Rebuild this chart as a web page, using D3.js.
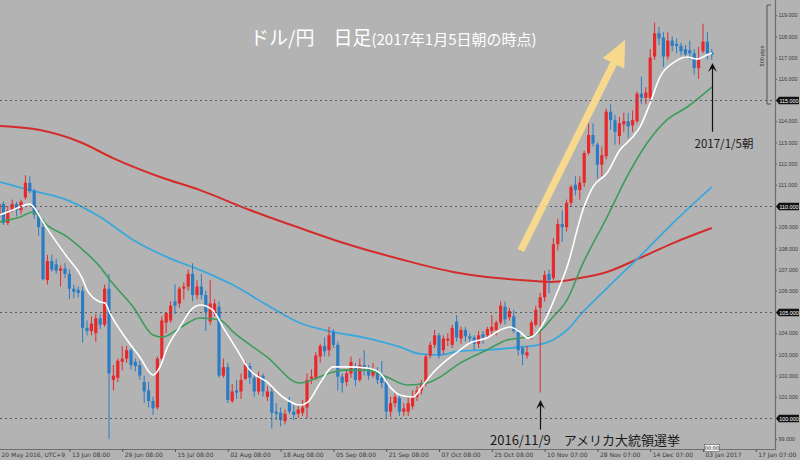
<!DOCTYPE html>
<html><head><meta charset="utf-8">
<script src="https://cdn.jsdelivr.net/npm/d3@7"></script>
<style>body{margin:0;background:#b3b3b3;overflow:hidden}svg{display:block}</style>
</head><body>
<svg id="c" width="800" height="460"></svg>
<script>
// ---- DATA ----
// daily candles [open, high, low, close], bar 0 = 20 May 2016
const candles = [
[109.5,110.3,109.4,110.1],[110.1,110.2,109.1,109.2],[109.2,110.0,109.1,109.8],[109.8,110.3,109.7,110.1],[110.1,110.2,109.5,109.8],
[109.8,110.3,109.6,110.2],[110.4,111.45,110.3,111.1],[111.1,111.4,110.6,110.7],[110.7,110.8,109.4,109.6],[109.6,109.8,108.6,109.0],
[109.0,109.4,106.5,106.55],[106.5,107.7,106.3,107.4],[107.4,107.7,106.9,107.0],[107.25,107.5,106.8,106.95],[106.95,107.2,106.2,107.05],
[107.05,107.3,106.6,106.8],[106.8,107.0,105.6,106.1],[106.1,106.3,105.65,105.95],[106.05,106.2,105.7,105.9],[106.0,106.2,103.55,104.25],
[104.25,104.6,103.9,104.1],[104.1,104.8,103.9,104.45],[104.0,104.9,103.6,104.7],[104.7,104.9,104.2,104.4],[104.4,106.3,104.3,106.1],
[106.1,106.8,99.0,102.1],[101.8,102.5,101.3,102.0],[101.9,102.8,101.7,102.7],[102.65,103.4,102.25,102.8],[102.8,103.4,102.6,103.2],
[103.2,103.3,102.3,102.5],[102.65,102.8,102.2,102.45],[102.5,102.7,101.8,102.0],[101.7,102.0,100.7,101.25],[101.3,101.7,100.5,100.8],
[100.8,101.0,100.15,100.45],[100.5,102.9,100.4,102.8],[102.8,104.8,102.7,104.6],[104.5,105.0,104.0,104.95],[104.6,105.5,104.5,105.3],
[105.5,106.3,104.9,105.3],[105.4,106.2,105.2,106.1],[106.1,106.4,105.6,106.2],[106.2,107.0,106.0,106.8],[106.8,107.3,105.5,105.8],
[105.8,106.5,105.6,106.2],[106.2,106.8,105.6,105.8],[105.8,106.0,104.1,105.0],[104.55,106.5,104.4,105.4],[104.95,105.6,104.8,105.4],
[105.25,105.5,101.9,102.0],[102.0,102.8,101.9,102.4],[102.4,102.6,100.7,100.85],[100.8,101.6,100.7,101.25],[101.3,101.8,100.9,101.2],
[101.25,102.1,100.9,101.8],[101.85,102.7,101.8,102.5],[102.45,102.6,101.6,101.9],[101.9,102.0,101.0,101.25],[101.25,102.2,101.1,102.0],
[102.0,102.1,101.0,101.25],[101.0,101.5,100.8,101.25],[101.25,101.5,99.5,100.25],[100.3,100.7,99.9,100.2],[100.25,100.5,99.6,99.9],
[99.85,100.4,99.7,100.2],[100.75,101.0,100.2,100.3],[100.3,100.6,99.9,100.15],[100.2,100.6,100.0,100.4],[100.25,100.85,100.1,100.5],
[100.5,102.1,100.0,101.8],[101.85,102.3,101.6,101.95],[101.9,103.1,101.8,102.95],[102.9,103.5,102.6,103.4],[103.4,103.8,102.9,103.15],
[103.2,104.3,102.9,103.9],[104.05,104.2,103.3,103.45],[103.45,103.6,101.3,101.95],[101.95,102.1,101.2,101.65],[101.7,102.3,101.5,102.1],
[102.1,102.9,101.9,102.65],[102.45,102.6,101.5,101.8],[101.8,102.8,101.7,102.5],[102.5,103.2,102.0,102.35],[102.35,102.5,101.8,102.0],
[102.0,102.6,101.9,102.3],[102.2,102.4,101.6,101.8],[101.9,102.7,101.4,101.65],[101.7,101.9,100.0,100.3],[100.3,101.0,100.05,100.7],
[100.7,101.2,100.5,101.0],[100.95,101.1,100.1,100.3],[100.3,100.7,100.1,100.45],[100.3,101.0,100.1,100.7],[100.55,101.3,100.4,101.0],
[101.0,101.5,100.8,101.3],[101.3,101.8,101.1,101.65],[101.65,103.0,101.5,102.9],[102.95,103.6,102.8,103.45],[103.45,104.15,103.3,103.9],
[103.9,104.0,102.8,102.95],[103.2,103.9,103.0,103.75],[103.65,104.0,103.4,103.75],[103.45,104.4,103.3,104.25],[104.55,104.85,103.6,103.8],
[103.75,104.3,103.5,104.15],[104.15,104.3,103.6,103.85],[103.85,104.0,103.5,103.75],[103.8,103.9,103.2,103.5],[103.5,104.1,103.3,103.9],
[103.95,104.1,103.5,103.8],[103.9,104.3,103.8,104.2],[104.1,104.85,103.9,104.3],[104.15,104.6,103.9,104.5],[104.5,105.5,104.4,105.3],
[105.25,105.5,104.4,104.65],[104.75,105.2,104.6,105.05],[104.8,105.1,104.0,104.1],[104.05,104.2,102.95,103.2],[103.3,103.4,102.5,103.0],
[102.95,103.4,102.8,103.1],[103.8,104.6,103.7,104.5],[104.4,105.3,104.3,105.1],[105.2,105.9,101.2,105.7],[105.7,106.95,105.5,106.75],
[106.8,107.0,105.9,106.5],[106.6,108.5,106.5,108.2],[108.2,109.4,107.9,109.15],[109.15,109.8,108.3,109.0],[109.0,110.3,108.8,110.15],
[110.15,111.0,110.0,110.9],[111.0,111.4,110.5,110.75],[110.75,111.4,110.3,111.1],[111.1,112.6,110.9,112.5],[112.5,113.9,112.4,113.35],
[113.35,113.9,112.8,112.95],[112.9,113.0,111.3,111.95],[111.95,112.8,111.4,112.4],[112.35,114.6,112.2,114.45],[114.45,114.8,113.6,114.05],
[114.05,114.3,112.9,113.5],[113.3,114.2,112.9,113.9],[113.85,114.4,113.5,114.0],[114.0,114.4,113.2,113.75],[113.8,114.5,113.5,114.05],
[114.0,115.4,113.9,115.3],[115.3,116.1,114.8,115.1],[115.1,115.6,114.8,115.35],[115.1,117.4,114.9,117.0],[117.05,118.65,116.9,118.15],
[118.15,118.45,117.6,117.9],[117.95,118.2,116.55,117.05],[117.05,118.2,116.9,117.8],[117.8,118.0,117.3,117.55],[117.65,117.9,117.2,117.55],
[117.55,117.7,117.1,117.3],[117.4,117.6,117.0,117.15],[117.35,117.8,116.9,117.2],[117.2,117.4,116.2,116.5],[116.5,117.5,116.0,116.9],
[117.3,118.6,117.2,117.75],[117.75,118.2,116.9,117.2],[117.25,117.4,116.9,117.15]
];
// moving averages: [bar, price]
const maWhite = [[0.2,109.58],[3,109.8],[7,110.09],[10,109.25],[11.6,108.73],[15.5,107.59],[18.9,106.6],[20,106.04],[23,105.47],[24.1,105.42],
[25.2,104.95],[29.1,103.68],[32,102.88],[35,102.03],[36.6,102.41],[38.2,103.3],[41.1,104.29],[44.1,105.19],[45.7,105.33],[48.6,105.09],
[50.9,104.29],[54.1,103.21],[57,102.26],[60.9,101.7],[64.5,100.99],[68.4,100.61],[70.2,100.75],[73,101.65],[75.9,102.41],[79.1,102.41],
[83.6,102.36],[86.6,102.12],[88.9,101.46],[91.1,101.08],[94.1,100.99],[96.4,101.56],[98.6,102.12],[101.8,102.74],[104.8,103.21],[107,103.54],
[110.9,103.77],[113.9,104.15],[116.1,104.29],[118.4,104.06],[120.2,103.77],[121.8,103.92],[124.1,104.62],[126.8,105.9],[129.1,107.12],[132.7,109.81],
[135,110.9],[138.2,111.56],[141.1,112.64],[144,113.25],[145.7,113.73],[148,114.86],[150.2,116.08],[153.2,116.75],[156.4,117.03],[158.6,116.93],
[160.9,117.12],[162,117.22]];
const maGreen = [[0.2,109.25],[4.8,109.48],[7.7,109.72],[10.9,109.1],[15.5,108.54],[19.1,107.92],[23,107.12],[25.2,106.51],[30.5,105.24],[35,103.92],
[37.3,103.82],[41.1,104.25],[45.7,104.72],[50.2,104.62],[53.2,104.06],[60.9,102.88],[68.4,101.65],[72.3,101.89],[75.9,102.17],[78.2,102.26],
[83.6,102.26],[88.2,101.93],[92.7,101.56],[97.3,101.65],[100.2,101.93],[104.8,102.59],[110.9,103.21],[115.5,103.68],[118.4,103.77],[121.8,103.92],
[125.9,104.76],[129.1,105.57],[132.5,107.2],[138.2,109.48],[142.7,111.37],[147.3,112.97],[151.8,114.06],[156.4,114.67],[162,115.61]];
const maBlue = [[0.2,111.13],[7,110.75],[15.5,110.28],[23,109.48],[30.5,108.4],[38.2,107.59],[45.7,106.98],[53.2,106.27],[60.9,105.33],[68.4,104.48],
[75.9,104.06],[83.6,103.77],[91.1,103.35],[95.7,103.02],[100.2,102.97],[104.8,103.16],[110.9,103.21],[118.4,103.35],[122.3,103.44],[125.9,103.68],
[129.1,104.15],[132.7,105.0],[138.2,106.13],[145.7,107.64],[153.2,109.2],[162,110.9]];
const maRed = [[0.2,113.77],[9.3,113.58],[18.4,113.02],[25.9,112.26],[36.6,111.37],[45.7,110.75],[57,109.81],[68.4,108.96],[79.8,108.16],[91.1,107.5],
[103.2,106.89],[110.9,106.65],[118.4,106.51],[125.2,106.42],[132,106.6],[138.2,106.89],[145.7,107.55],[153.2,108.25],[162,108.96]];
const priceTicks = [99,101,102,103,104,106,107,108,109,111,112,113,114,116,117,118,119];
const levelLines = [100,105,110,115];
const timeTickIdx = [0,16,28,40,52,64,76,88,100,112,124,136,148,160,172];
const timeTickLabels = ["20 May 2016, UTC+9","13 Jun 08:00","29 Jun 08:00","15 Jul 08:00","02 Aug 08:00","18 Aug 08:00","05 Sep 08:00",
"21 Sep 08:00","07 Oct 08:00","25 Oct 08:00","10 Nov 07:00","28 Nov 07:00","14 Dec 07:00","03 Jan 2017","17 Jan 07:00"];

// ---- CHART ----
const W = 800, H = 460, plotR = 775, plotB = 449;
const svg = d3.select("#c");
const x = d3.scaleLinear().domain([0, 176]).range([-1, 773.4]);
const y = d3.scaleLinear().domain([100, 115]).range([418, 100]);
const UP = "#e8282b", DN = "#2c7cc4";
const axFont = "5.4px 'Liberation Sans', Arial, sans-serif";

svg.append("rect").attr("width", W).attr("height", H).attr("fill", "#b3b3b3");
svg.append("defs").append("clipPath").attr("id", "pc")
  .append("rect").attr("x", 0).attr("y", 0).attr("width", plotR).attr("height", plotB);
const plot = svg.append("g").attr("clip-path", "url(#pc)");

// level lines
svg.selectAll(".lvl").data(levelLines).join("line")
  .attr("x1", 0).attr("x2", plotR + 2).attr("y1", d => Math.round(y(d)) + 0.5).attr("y2", d => Math.round(y(d)) + 0.5)
  .attr("stroke", "#5a5a5a").attr("stroke-width", 1).attr("stroke-dasharray", "2,3");

// moving average lines (behind candles: red, blue)
const line = d3.line().x(d => x(d[0])).y(d => y(d[1])).curve(d3.curveMonotoneX);
plot.append("path").datum(maRed).attr("d", line).attr("fill", "none").attr("stroke", "#d42b2b").attr("stroke-width", 2);
plot.append("path").datum(maBlue).attr("d", line).attr("fill", "none").attr("stroke", "#3aa7dd").attr("stroke-width", 1.8);

// candles
const cg = plot.selectAll(".cd").data(candles).join("g");
cg.append("line")
  .attr("x1", (d, i) => x(i)).attr("x2", (d, i) => x(i))
  .attr("y1", d => y(d[1])).attr("y2", d => y(d[2]))
  .attr("stroke", d => d[3] >= d[0] ? UP : DN).attr("stroke-width", 1);
cg.append("rect")
  .attr("x", (d, i) => x(i) - 1.6).attr("width", 3.2)
  .attr("y", d => y(Math.max(d[0], d[3])))
  .attr("height", d => Math.max(1, Math.abs(y(d[0]) - y(d[3]))))
  .attr("fill", d => d[3] >= d[0] ? UP : DN);

// green and white MAs over candles
plot.append("path").datum(maGreen).attr("d", line).attr("fill", "none").attr("stroke", "#3d9c5a").attr("stroke-width", 1.6);
plot.append("path").datum(maWhite).attr("d", line).attr("fill", "none").attr("stroke", "#ffffff").attr("stroke-width", 1.6);

// right axis
const ra = svg.append("g").attr("transform", `translate(${plotR},0)`)
  .call(d3.axisRight(y).tickValues(priceTicks).tickFormat(d3.format(".3f")).tickSize(2).tickSizeOuter(0));
ra.select(".domain").remove();
ra.selectAll("line").attr("stroke", "#555");
ra.selectAll("text").attr("x", 3.5).attr("fill", "#3a3a3a").style("font", axFont);
svg.append("line").attr("x1", plotR + 0.5).attr("x2", plotR + 0.5).attr("y1", 0).attr("y2", plotB)
  .attr("stroke", "#6e6e6e").attr("stroke-width", 1.2);
// highlighted level labels
const hl = svg.selectAll(".hl").data(levelLines).join("g").attr("transform", d => `translate(${plotR + 1},${Math.round(y(d)) + 0.5})`);
hl.append("path").attr("d", "M0,0 L3,-3.8 L23,-3.8 L23,3.8 L3,3.8 Z").attr("fill", "#111");
hl.append("text").attr("x", 13).attr("y", 2).attr("text-anchor", "middle").attr("fill", "#fff")
  .style("font", axFont).text(d => d3.format(".3f")(d));

// 500 pips bracket
svg.append("path").attr("d", "M771,5 L767,5 L767,104 L771,104").attr("fill", "none").attr("stroke", "#555").attr("stroke-width", 1);
svg.append("text").attr("transform", "translate(764,56) rotate(-90)").attr("text-anchor", "middle")
  .attr("fill", "#333").style("font", "5.5px 'Liberation Sans', Arial, sans-serif").text("500 pips");

// bottom axis
svg.append("line").attr("x1", 0).attr("x2", plotR + 1).attr("y1", plotB + 0.5).attr("y2", plotB + 0.5)
  .attr("stroke", "#6e6e6e").attr("stroke-width", 1.2);
const ba = svg.append("g").attr("transform", `translate(0,${plotB})`)
  .call(d3.axisBottom(x).tickValues(timeTickIdx).tickFormat((d, i) => timeTickLabels[i]).tickSizeInner(3).tickSizeOuter(0));
ba.select(".domain").remove();
ba.selectAll("line").attr("stroke", "#555");
ba.selectAll("text").attr("text-anchor", "start").attr("dx", 2).attr("y", 4).attr("dy", "0.71em")
  .attr("fill", "#3a3a3a").style("font", "6px 'DejaVu Sans', sans-serif");
// cursor time box
svg.append("rect").attr("x", 704.5).attr("y", 444.5).attr("width", 15).attr("height", 7).attr("fill", "#f2f2f2").attr("stroke", "#555").attr("stroke-width", 0.6);
svg.append("text").attr("x", 712).attr("y", 450).attr("text-anchor", "middle").attr("fill", "#222")
  .style("font", "5px 'DejaVu Sans', sans-serif").text("00:00");

// yellow trend arrow
(function () {
  const x0 = x(118.6), y0 = y(107.9), x1 = x(142.3), y1 = y(117.83);
  const dx = x1 - x0, dy = y1 - y0, L = Math.hypot(dx, dy), ux = dx / L, uy = dy / L, nx = -uy, ny = ux;
  const hw = 3.6, hl = 26, hh = 12;
  const bx = x1 - ux * hl, by = y1 - uy * hl;
  const pts = [[x0 + nx * hw, y0 + ny * hw], [bx + nx * hw, by + ny * hw], [bx + nx * hh, by + ny * hh], [x1, y1],
               [bx - nx * hh, by - ny * hh], [bx - nx * hw, by - ny * hw], [x0 - nx * hw, y0 - ny * hw]];
  svg.append("path").attr("d", "M" + pts.map(p => p.join(",")).join("L") + "Z")
    .attr("fill", "#fddc8a").attr("opacity", 0.92);
})();

// black annotation arrows
function vArrow(i, pTop, pBot) {
  const ax = Math.round(x(i)) + 0.5, yt = y(pTop), yb = y(pBot);
  svg.append("line").attr("x1", ax).attr("x2", ax).attr("y1", yt + 2).attr("y2", yb).attr("stroke", "#111").attr("stroke-width", 1.2);
  svg.append("path").attr("d", `M${ax - 4.5},${yt + 9} L${ax},${yt} L${ax + 4.5},${yt + 9} L${ax},${yt + 5} Z`).attr("fill", "#111");
}
vArrow(123, 100.85, 99.45);
vArrow(162, 116.75, 113.5);

const jp = "'Noto Sans CJK JP', sans-serif";
svg.append("text").attr("x", 490).attr("y", 445).attr("fill", "#1a1a1a").style("font", `13px ${jp}`)
  .text("2016/11/9　アメリカ大統領選挙");
svg.append("text").attr("x", 724).attr("y", 148).attr("text-anchor", "middle").attr("fill", "#1a1a1a").style("font", `11.5px ${jp}`)
  .text("2017/1/5朝");

// title
const t = svg.append("text").attr("x", 250).attr("y", 45).attr("fill", "#ffffff").style("font", `19px ${jp}`);
t.append("tspan").text("ドル/円　日足");
t.append("tspan").style("font-size", "15px").text("(2017年1月5日朝の時点)");
</script>
</body></html>
